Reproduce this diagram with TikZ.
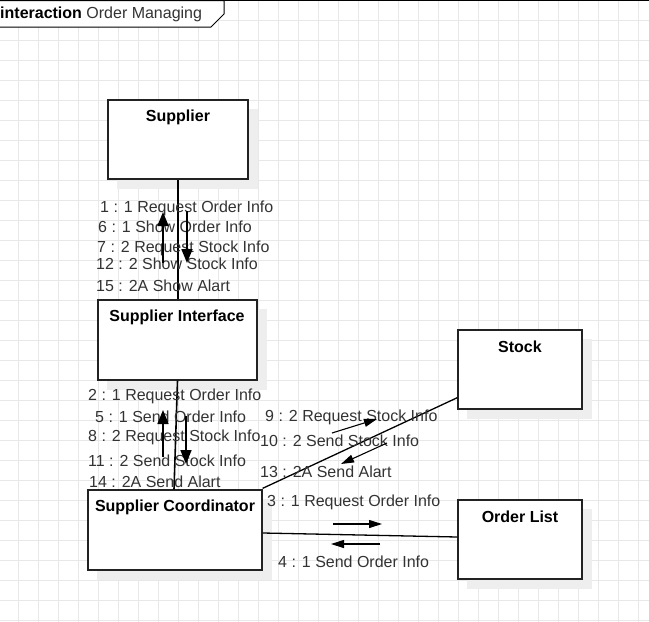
\documentclass[tikz,border=0pt]{standalone}
\usepackage{fontspec}
\setmainfont{Liberation Sans}
\usetikzlibrary{calc,arrows.meta}
\definecolor{gridc}{HTML}{E8E8E8}
\definecolor{shadowc}{HTML}{EEEEEE}
\definecolor{boxc}{HTML}{222222}
\definecolor{txtc}{HTML}{333333}
\tikzset{
  objbox/.style={draw=boxc, line width=1.3pt, fill=white, minimum width=#1, inner sep=0pt},
  boxtitle/.style={font=\fontsize{16}{19}\selectfont\bfseries, text=black, inner sep=0pt},
  msg/.style={font=\fontsize{16}{19}\selectfont, text=txtc, anchor=west, inner sep=0pt, yshift=-2pt},
  link/.style={draw=black, line width=1.6pt},
  bigarrow/.style={draw=black, line width=1.7pt, -{Triangle[length=14pt,width=11pt]}},
  smallarrow/.style={draw=black, line width=1.1pt, -{Triangle[length=13pt,width=8pt]}},
}
\begin{document}
\begin{tikzpicture}[x=1pt,y=-1pt]
\useasboundingbox (0,0) rectangle (649,622);
\fill[white] (0,0) rectangle (649,622);
% grid
\foreach \gx in {18,38,...,638} \draw[gridc, line width=0.8pt] (\gx,0) -- (\gx,622);
\foreach \gy in {20,40,...,620} \draw[gridc, line width=0.8pt] (0,\gy) -- (649,\gy);
% frame
\draw[black, line width=1pt] (0,0.5) -- (649,0.5);
\draw[black, line width=1pt, fill=white] (-2,0.5) -- (224,0.5) -- (224,14) -- (211,27) -- (-2,27);
\node[anchor=west, inner sep=0pt, font=\fontsize{16}{19}\selectfont, text=txtc] (frametitle) at (0,14) {\textbf{\color{black}interaction} Order Managing};
% shadows
\fill[shadowc] (117,109) rectangle (258,189);
\fill[shadowc] (107,309) rectangle (267,390);
\fill[shadowc] (467,339) rectangle (592,419);
\fill[shadowc] (467,509) rectangle (592,589);
\fill[shadowc] (97,499) rectangle (272,580);
% boxes
\node[objbox=140pt, minimum height=79pt] (sup) at (178,139.5) {};
\node[objbox=159pt, minimum height=80pt] (int) at (177.5,340) {};
\node[objbox=124pt, minimum height=79pt] (stock) at (520,369.5) {};
\node[objbox=124pt, minimum height=79pt] (ol) at (520,539.5) {};
\node[objbox=174pt, minimum height=80pt] (coord) at (175,530) {};
\node[boxtitle] (supt) at (178,117) {Supplier};
\node[boxtitle] (intt) at (177,317) {Supplier Interface};
\node[boxtitle] (stockt) at (520,347) {Stock};
\node[boxtitle] (olt) at (520,517) {Order List};
\node[boxtitle] (coordt) at (175,507) {Supplier Coordinator};
% links
\draw[link] (sup.south) -- (int.north -| sup.south);
\draw[link] (int.south) -- ($(coord.north)+(-1,0)$);
\draw[link, line width=1.3pt] ($(coord.north east)+(0,-1)$) -- ($(stock.south west)+(0,-12)$);
\draw[link, line width=1.3pt] ($(coord.east)+(0,3)$) -- ($(ol.west)+(0,-2.5)$);
% message labels
\node[msg] (m1) at (100,206) {1 : 1 Request Order Info};
\node[msg] (m6) at (98,225) {6 : 1 Show Order Info};
\node[msg] (m7) at (97,246) {7 : 2 Request Stock Info};
\node[msg] (m12) at (96,262) {12 : 2 Show Stock Info};
\node[msg] (m15) at (96,284) {15 : 2A Show Alart};
\node[msg] (m2) at (88,394) {2 : 1 Request Order Info};
\node[msg] (m5) at (95,415) {5 : 1 Send Order Info};
\node[msg] (m8) at (88,435) {8 : 2 Request Stock Info};
\node[msg] (m11) at (88,459) {11 : 2 Send Stock Info};
\node[msg] (m14) at (89,480) {14 : 2A Send Alart};
\node[msg] (m9) at (265,415) {9 : 2 Request Stock Info};
\node[msg] (m10) at (260,439) {10 : 2 Send Stock Info};
\node[msg] (m13) at (260,470) {13 : 2A Send Alart};
\node[msg] (m3) at (267,500) {3 : 1 Request Order Info};
\node[msg] (m4) at (278,560) {4 : 1 Send Order Info};
% arrow coordinates
\coordinate (a1s) at (163,263); \coordinate (a1e) at (163,212);
\coordinate (a2s) at (187,211); \coordinate (a2e) at (187,263);
\coordinate (a3s) at (163,457); \coordinate (a3e) at (163,410);
\coordinate (a4s) at (186,416); \coordinate (a4e) at (186,464);
\coordinate (a5s) at (332,433); \coordinate (a5e) at (377,419);
\coordinate (a6s) at (387,443); \coordinate (a6e) at (341,464);
\coordinate (a7s) at (333,524); \coordinate (a7e) at (382,524);
\coordinate (a8s) at (380,544); \coordinate (a8e) at (331,544);
\draw[bigarrow] (a1s) -- (a1e);
\draw[bigarrow] (a2s) -- (a2e);
\draw[bigarrow] (a3s) -- (a3e);
\draw[bigarrow] (a4s) -- (a4e);
\draw[smallarrow] (a5s) -- (a5e);
\draw[smallarrow] (a6s) -- (a6e);
\draw[smallarrow] (a7s) -- (a7e);
\draw[smallarrow] (a8s) -- (a8e);
\end{tikzpicture}
\end{document}
